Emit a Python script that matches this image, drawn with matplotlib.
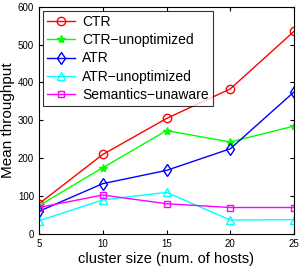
import matplotlib
matplotlib.use("Agg")
import matplotlib.pyplot as plt

hosts = [5, 10, 15, 20, 25]
ctr = [80, 210, 305, 383, 535]
ctr_unopt = [75, 175, 273, 243, 285]
atr = [60, 133, 168, 225, 375]
atr_unopt = [35, 90, 110, 37, 38]
sem_unaware = [70, 103, 80, 70, 70]

plt.rcParams['font.family'] = ['Liberation Sans', 'DejaVu Sans']

fig = plt.figure(figsize=(3.0, 2.69), dpi=100)
ax = fig.add_axes([0.13, 0.13, 0.85, 0.845])

lw = 1.0
ax.plot(hosts, ctr, color='red', marker='o', mfc='none', ms=6, lw=lw, label='CTR')
ax.plot(hosts, ctr_unopt, color='#00ff00', marker='*', ms=6, lw=lw, label='CTR\u2212unoptimized')
ax.plot(hosts, atr, color='blue', marker='d', mfc='none', ms=6, lw=lw, label='ATR')
ax.plot(hosts, atr_unopt, color='cyan', marker='^', mfc='none', ms=6, lw=lw, label='ATR\u2212unoptimized')
ax.plot(hosts, sem_unaware, color='magenta', marker='s', mfc='none', ms=5, lw=lw, label='Semantics\u2212unaware')

ax.set_xlim(5, 25)
ax.set_ylim(0, 600)
ax.set_xticks(hosts)
ax.set_yticks(range(0, 601, 100))
ax.tick_params(direction='in', top=True, right=True, labelsize=7, length=3)
ax.set_xlabel('cluster size (num. of hosts)', fontsize=10.5, labelpad=2)
ax.set_ylabel('Mean throughput', fontsize=11, labelpad=2)

leg = ax.legend(loc='upper left', fontsize=10, frameon=True, fancybox=False,
                borderpad=0.3, labelspacing=0.3, handlelength=2.0, handletextpad=0.5,
                borderaxespad=0.3)
leg.get_frame().set_edgecolor('black')
leg.get_frame().set_linewidth(0.8)

fig.savefig('out.png', dpi=100)
